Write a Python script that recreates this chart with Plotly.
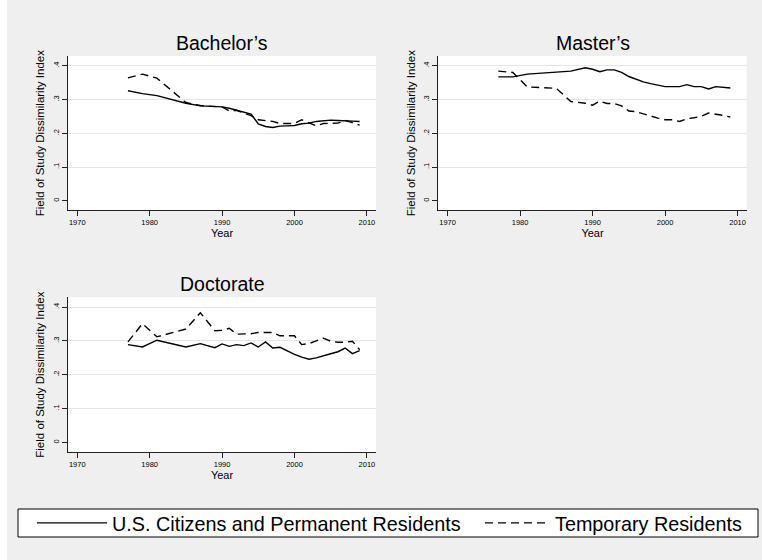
import plotly.graph_objects as go

years = [1977, 1979, 1981, 1985, 1987, 1989, 1990, 1991, 1992, 1993, 1994, 1995, 1996,
         1997, 1998, 1999, 2000, 2001, 2002, 2003, 2004, 2005, 2006, 2007, 2008, 2009]

bach_citizen = [0.326, 0.3175, 0.3115, 0.289, 0.281, 0.280, 0.278, 0.274, 0.269, 0.263, 0.257, 0.228, 0.220,
                0.217, 0.221, 0.222, 0.223, 0.228, 0.230, 0.235, 0.237, 0.239, 0.238, 0.238, 0.236, 0.235]
bach_temp = [0.364, 0.375, 0.363, 0.291, 0.282, 0.280, 0.278, 0.266, 0.268, 0.260, 0.252, 0.240, 0.237,
             0.235, 0.229, 0.228, 0.229, 0.240, 0.232, 0.222, 0.229, 0.229, 0.230, 0.238, 0.230, 0.224]

mast_citizen = [0.367, 0.367, 0.375, 0.382, 0.384, 0.394, 0.3895, 0.382, 0.3876, 0.3876, 0.380, 0.368, 0.359,
                0.352, 0.347, 0.343, 0.338, 0.338, 0.338, 0.344, 0.338, 0.338, 0.331, 0.338, 0.335, 0.334]
mast_temp = [0.384, 0.380, 0.337, 0.333, 0.294, 0.289, 0.283, 0.295, 0.288, 0.288, 0.281, 0.266, 0.264,
             0.257, 0.2515, 0.245, 0.240, 0.240, 0.235, 0.243, 0.246, 0.250, 0.260, 0.257, 0.253, 0.248]

doc_citizen = [0.289, 0.282, 0.302, 0.282, 0.292, 0.280, 0.291, 0.284, 0.289, 0.286, 0.294, 0.282, 0.297,
               0.279, 0.281, 0.270, 0.260, 0.252, 0.246, 0.250, 0.255, 0.262, 0.268, 0.279, 0.2625, 0.271]
doc_temp = [0.297, 0.351, 0.312, 0.335, 0.383, 0.330, 0.331, 0.337, 0.320, 0.320, 0.321, 0.325, 0.325,
            0.325, 0.315, 0.315, 0.315, 0.289, 0.292, 0.300, 0.308, 0.299, 0.296, 0.296, 0.299, 0.274]

panel_titles = ["Bachelor\u2019s", "Master\u2019s", "Doctorate"]
series_names = ["U.S. Citizens and Permanent Residents", "Temporary Residents"]
x_tickvals = [1970, 1980, 1990, 2000, 2010]
y_tickvals = [0, 0.1, 0.2, 0.3, 0.4]
y_ticktext = ["0", ".1", ".2", ".3", ".4"]
x_title = "Year"
y_title = "Field of Study Dissimilarity Index"

# figure fills the whole 762x560 window (page margin removed below)
W, H = 762, 560
FONT = "Liberation Sans, Arial, Helvetica, sans-serif"
BG = "#efefef"

# panel pixel boxes in window coords (left, right, top, bottom)
boxes = [(68, 376, 56, 210.3), (438.3, 746.7, 56, 210.3), (68, 376, 297.3, 452)]


def px_x(v):
    return v / W


def px_y(v):
    return 1 - v / H


fig = go.Figure()
panel_data = [(bach_citizen, bach_temp), (mast_citizen, mast_temp), (doc_citizen, doc_temp)]
for i, (cit, tmp) in enumerate(panel_data):
    sfx = "" if i == 0 else str(i + 1)
    fig.add_trace(go.Scatter(x=years, y=cit, mode="lines", name=series_names[0],
                             line=dict(color="black", width=1.4), xaxis="x" + sfx, yaxis="y" + sfx,
                             showlegend=(i == 0), legend="legend"))
    fig.add_trace(go.Scatter(x=years, y=tmp, mode="lines", name=series_names[1],
                             line=dict(color="black", width=1.4, dash="8px,5px"), xaxis="x" + sfx, yaxis="y" + sfx,
                             showlegend=(i == 0), legend="legend2"))

layout = dict(width=W, height=H, margin=dict(l=0, r=0, t=0, b=0),
              paper_bgcolor=BG, plot_bgcolor="white", font=dict(family=FONT, color="black"))
annotations = []
for i, (l, r, t, b) in enumerate(boxes):
    sfx = "" if i == 0 else str(i + 1)
    layout["xaxis" + sfx] = dict(
        domain=[px_x(l), px_x(r)], range=[1968.72, 2011.26], anchor="y" + sfx,
        tickvals=x_tickvals, ticks="outside", ticklen=5, tickwidth=1, tickcolor="#222",
        showline=True, linecolor="#222", linewidth=1.3, showgrid=False, zeroline=False,
        tickfont=dict(size=7.5, family=FONT), fixedrange=True,
        title=dict(text=x_title, font=dict(size=11, family=FONT), standoff=2))
    layout["yaxis" + sfx] = dict(
        domain=[px_y(b), px_y(t)], range=[-0.028, 0.4287], anchor="x" + sfx,
        tickvals=y_tickvals, ticktext=y_ticktext, tickangle=-90, ticks="outside", ticklen=5,
        tickwidth=1, tickcolor="#222", showline=True, linecolor="#222", linewidth=1.3,
        showgrid=False, zeroline=False, tickfont=dict(size=7.5, family=FONT), fixedrange=True,
        minor=dict(tickvals=y_tickvals[1:], showgrid=True, gridcolor="#e6e6e6", gridwidth=1.3, ticks=""),
        title=dict(text=y_title, font=dict(size=11.5, family=FONT), standoff=4))
    annotations.append(dict(text=panel_titles[i], x=(px_x(l) + px_x(r)) / 2, y=px_y(t - 13),
                            xref="paper", yref="paper", xanchor="center", yanchor="middle",
                            showarrow=False, font=dict(size=19.5, family=FONT)))
layout["annotations"] = annotations
layout["legend"] = dict(orientation="h", x=px_x(32), xanchor="left", y=px_y(523), yanchor="middle",
                        bgcolor="rgba(0,0,0,0)", font=dict(size=19.8, family=FONT), itemwidth=70)
layout["legend2"] = dict(orientation="h", x=px_x(480), xanchor="left", y=px_y(523), yanchor="middle",
                         bgcolor="rgba(0,0,0,0)", font=dict(size=19.8, family=FONT), itemwidth=65)
layout["shapes"] = [
    # thin white margin at the left edge of the image
    dict(type="rect", xref="paper", yref="paper", x0=0, x1=px_x(7), y0=0, y1=1,
         line=dict(width=0), fillcolor="white", layer="below"),
    # legend frame
    dict(type="rect", xref="paper", yref="paper", x0=px_x(18), x1=px_x(758),
         y0=px_y(537), y1=px_y(509), line=dict(color="black", width=1),
         fillcolor="white", layer="below"),
]
fig.update_layout(**layout)
fig.write_html("out.html", config={"displayModeBar": False}, post_script=(
    "document.body.style.margin='0';"
    "document.body.style.overflow='hidden';"
    "document.documentElement.style.overflow='hidden';"))
